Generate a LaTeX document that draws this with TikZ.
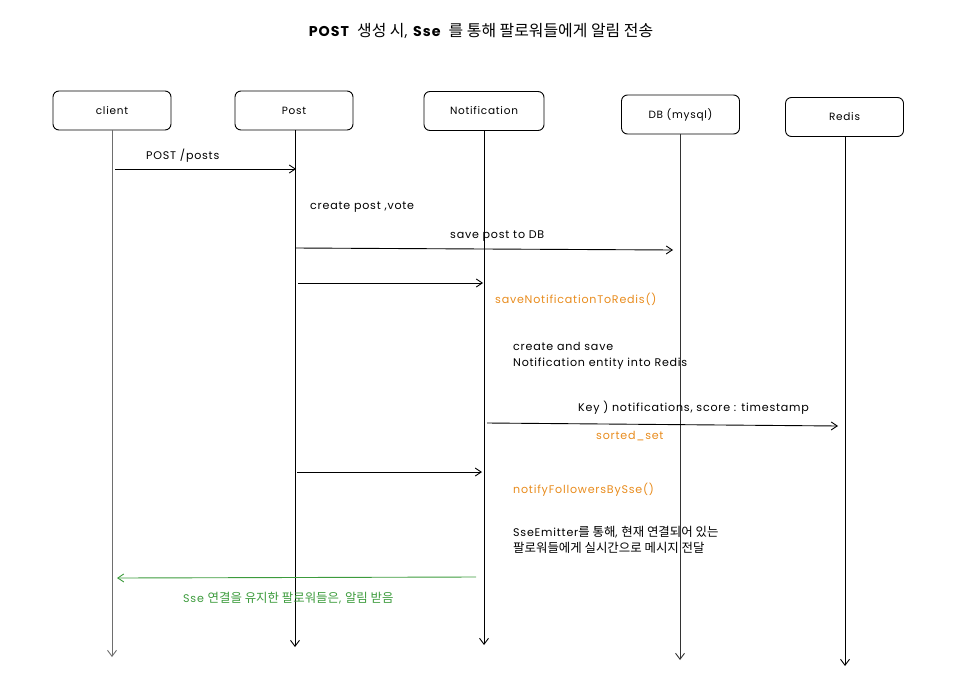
\documentclass[tikz,border=0pt]{standalone}
\usepackage{fontspec}
\setmainfont{Poppins}[LetterSpace=7]
\newfontfamily\kr[Scale=1.12]{Noto Sans CJK KR}
\usetikzlibrary{arrows.meta}
\definecolor{orng}{RGB}{232,140,30}
\definecolor{grn}{RGB}{60,155,60}
\definecolor{lgray}{RGB}{110,110,110}
\tikzset{
  actor/.style={draw, rounded corners=6pt, line width=0.9pt, minimum width=118pt, minimum height=39pt, font=\fontsize{10.5}{12}\selectfont, inner sep=0pt},
  life/.style={line width=0.9pt, -{Straight Barb[length=6pt,width=9pt]}},
  msg/.style={line width=0.9pt, -{Straight Barb[length=6pt,width=8pt]}},
  txt/.style={anchor=west, inner sep=0pt, font=\fontsize{11.1}{16}\selectfont, align=left},
  otxt/.style={txt, text=orng},
  gtxt/.style={txt, text=grn},
}
\begin{document}
\begin{tikzpicture}[x=1pt,y=-1pt]
\useasboundingbox (0,0) rectangle (957,693);
\node[font=\fontsize{14.2}{16}\selectfont] (title) at (481,31) {\textbf{POST}\, {\kr 생성 시}, \textbf{Sse}\, {\kr 를 통해 팔로워들에게 알림 전송}};

\node[actor] (client) at (112,110.5) {client};
\node[actor] (post) at (294,110.5) {Post};
\node[actor, minimum width=120pt] (noti) at (484,111) {Notification};
\node[actor] (db) at (680.5,114.5) {DB (mysql)};
\node[actor] (redis) at (844.5,117) {Redis};

\coordinate (cend) at (112,657);
\coordinate (pend) at (295,647);
\coordinate (nend) at (484,645);
\coordinate (dend) at (680,660);
\coordinate (rend) at (845,666);

\draw[life, lgray] (client.south) -- (cend);
\draw[life] (post.south -| pend) -- (pend);
\draw[life] (noti.south) -- (nend);
\draw[life, black!80] (db.south -| dend) -- (dend);
\draw[life] (redis.south -| rend) -- (rend);

% POST /posts
\coordinate (m1s) at (115,169);
\coordinate (m1e) at (296,169);
\draw[msg] (m1s) -- (m1e);
\node[txt] (m1l) at (146,156) {POST /posts};

\node[txt] (cpv) at (310,207) {create post ,vote};

% save post to DB
\coordinate (m2s) at (295,248);
\coordinate (m2e) at (673,250);
\draw[msg] (m2s) -- (m2e);
\node[txt] (m2l) at (450,236) {save post to DB};

% post -> notification
\coordinate (m3s) at (298,283);
\coordinate (m3e) at (483,283);
\draw[msg] (m3s) -- (m3e);
\node[otxt] (snr) at (495,299) {saveNotificationToRedis()};

\node[txt] (cas) at (513,356) {create and save\\Notification entity into Redis};

\node[txt] (key) at (578,408) {Key ) notifications, score : timestamp};
\coordinate (m4s) at (487,423);
\coordinate (m4e) at (838,426);
\draw[msg] (m4s) -- (m4e);
\node[otxt] (ss) at (596,436) {sorted\_set};

% post -> notification 2
\coordinate (m5s) at (297,472);
\coordinate (m5e) at (482,472);
\draw[msg] (m5s) -- (m5e);
\node[otxt] (nfs) at (513,490) {notifyFollowersBySse()};

\node[txt] (sse) at (513,540) {SseEmitter{\kr 를 통해}, {\kr 현재 연결되어 있는}\\{\kr 팔로워들에게 실시간으로 메시지 전달}};

% green back arrow
\coordinate (m6s) at (476,577);
\coordinate (m6e) at (117,578);
\draw[msg, grn] (m6s) -- (m6e);
\node[gtxt] (gl) at (183,598) {Sse {\kr 연결을 유지한 팔로워들은}, {\kr 알림 받음}};
\end{tikzpicture}
\end{document}
